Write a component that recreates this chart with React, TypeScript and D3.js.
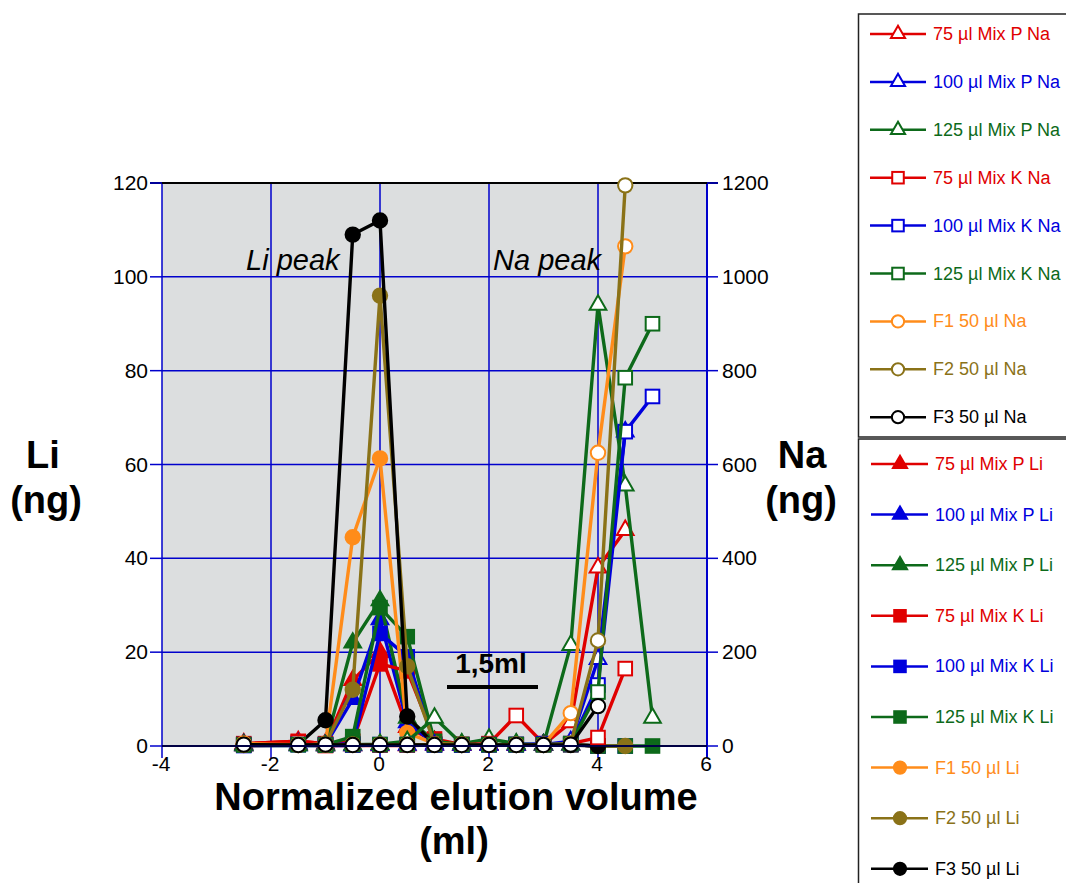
import React from "react";
import * as d3 from "d3";

const xValues = [-2.5, -1.5, -1, -0.5, 0, 0.5, 1, 1.5, 2, 2.5, 3, 3.5, 4, 4.5, 5];
const xTicks = [-4, -2, 0, 2, 4, 6];
const liTicks = [0, 20, 40, 60, 80, 100, 120];
const naTicks = [0, 200, 400, 600, 800, 1000, 1200];

type V = number | null;
// Na series (right axis, ng)
const na75P: V[] = [1, 2, 1, 1, 1, 1, 2, 2, 3, 2, 3, 50, 380, 460, null];
const na100P: V[] = [1, 1, 1, 1, 2, 2, 2, 2, 2, 2, 3, 10, 185, 670, null];
const na125P: V[] = [1, 1, 1, 3, 4, 10, 60, 5, 15, 5, 3, 215, 940, 555, 60];
const na75K: V[] = [2, 8, 1, 2, 2, 2, 3, 3, 5, 65, 5, 5, 18, 165, null];
const na100K: V[] = [1, 3, 2, 2, 3, 3, 2, 2, 3, 3, 5, 5, 130, 670, 745];
const na125K: V[] = [2, 3, 2, 3, 3, 3, 3, 3, 3, 3, 3, 5, 115, 785, 900];
const naF1: V[] = [5, 3, 3, 3, 3, 3, 3, 3, 3, 3, 3, 70, 625, 1065, null];
const naF2: V[] = [2, 2, 3, 3, 3, 3, 3, 3, 3, 3, 3, 5, 225, 1195, null];
const naF3: V[] = [3, 2, 3, 2, 2, 2, 2, 2, 2, 2, 2, 3, 85, null, null];
// Li series (left axis, ng)
const li75P: V[] = [0.5, 1, 0.5, 14, 20, 4, 1, 0.3, 0.3, 0.3, 0.3, 0.3, null, null, null];
const li100P: V[] = [0.3, 0.5, 0.3, 10, 27, 5, 0.5, 0.3, 0.3, 0.3, 0.3, 0.3, null, null, null];
const li125P: V[] = [0.3, 0.3, 0.3, 22, 31, 6, 1, 0.3, 0.3, 0.3, 0.3, 0.3, null, null, null];
const li75K: V[] = [0.5, 1, 0.5, 1, 17.5, 16, 1.5, 0.3, 0.3, 0.3, 0.3, 0.3, 0, null, null];
const li100K: V[] = [0.3, 0.5, 0.3, 0.5, 24, 19, 0.5, 0.3, 0.3, 0.3, 0.3, 0.3, 0, 0, null];
const li125K: V[] = [0.3, 0.3, 0.3, 2, 29.5, 23.3, 1, 0.3, 0.3, 0.3, 0.3, 0.3, 0, 0, 0];
const liF1: V[] = [0.5, 0.5, 0.5, 44.5, 61.3, 2.8, 0.5, 0.3, 0.3, 0.3, 0.3, 0.3, null, null, null];
const liF2: V[] = [0.3, 0.3, 0.5, 12, 96, 17, 0.5, 0.3, 0.3, 0.3, 0.3, 0.3, 0, 0, null];
const liF3: V[] = [0.3, 0.3, 5.5, 109, 112, 6.3, 0.3, 0.2, 0.2, 0.2, 0.2, 0.2, 0, null, null];

const RED = "#e00000";
const BLUE = "#0000dd";
const GREEN = "#0d6a1a";
const ORANGE = "#ff8c1a";
const OLIVE = "#8a7218";
const BLACK = "#000000";

type Shape = "tri" | "sq" | "circ";
interface S { name: string; data: V[]; color: string; shape: Shape; filled: boolean; axis: "li" | "na"; }

const naSeries: S[] = [
  { name: "75 µl Mix P Na", data: na75P, color: RED, shape: "tri", filled: false, axis: "na" },
  { name: "100 µl Mix P Na", data: na100P, color: BLUE, shape: "tri", filled: false, axis: "na" },
  { name: "125 µl Mix P Na", data: na125P, color: GREEN, shape: "tri", filled: false, axis: "na" },
  { name: "75 µl Mix K Na", data: na75K, color: RED, shape: "sq", filled: false, axis: "na" },
  { name: "100 µl Mix K Na", data: na100K, color: BLUE, shape: "sq", filled: false, axis: "na" },
  { name: "125 µl Mix K Na", data: na125K, color: GREEN, shape: "sq", filled: false, axis: "na" },
  { name: "F1 50 µl Na", data: naF1, color: ORANGE, shape: "circ", filled: false, axis: "na" },
  { name: "F2 50 µl Na", data: naF2, color: OLIVE, shape: "circ", filled: false, axis: "na" },
  { name: "F3 50 µl Na", data: naF3, color: BLACK, shape: "circ", filled: false, axis: "na" },
];
const liSeries: S[] = [
  { name: "75 µl Mix P Li", data: li75P, color: RED, shape: "tri", filled: true, axis: "li" },
  { name: "100 µl Mix P Li", data: li100P, color: BLUE, shape: "tri", filled: true, axis: "li" },
  { name: "125 µl Mix P Li", data: li125P, color: GREEN, shape: "tri", filled: true, axis: "li" },
  { name: "75 µl Mix K Li", data: li75K, color: RED, shape: "sq", filled: true, axis: "li" },
  { name: "100 µl Mix K Li", data: li100K, color: BLUE, shape: "sq", filled: true, axis: "li" },
  { name: "125 µl Mix K Li", data: li125K, color: GREEN, shape: "sq", filled: true, axis: "li" },
  { name: "F1 50 µl Li", data: liF1, color: ORANGE, shape: "circ", filled: true, axis: "li" },
  { name: "F2 50 µl Li", data: liF2, color: OLIVE, shape: "circ", filled: true, axis: "li" },
  { name: "F3 50 µl Li", data: liF3, color: BLACK, shape: "circ", filled: true, axis: "li" },
];

const W = 1066, H = 883;
const x = d3.scaleLinear().domain([-4, 6]).range([162, 707]);
const yLi = d3.scaleLinear().domain([0, 120]).range([746, 183]);
const yNa = d3.scaleLinear().domain([0, 1200]).range([746, 183]);

function Marker({ shape, cx, cy, color, filled, size = 1 }: { shape: Shape; cx: number; cy: number; color: string; filled: boolean; size?: number }) {
  const fill = filled ? color : "#ffffff";
  if (shape === "circ") return <circle cx={cx} cy={cy} r={7.2 * size} fill={fill} stroke={color} strokeWidth={2} />;
  if (shape === "sq") { const s = 6.8 * size; return <rect x={cx - s} y={cy - s} width={2 * s} height={2 * s} fill={fill} stroke={color} strokeWidth={2} />; }
  const t = d3.symbol().type(d3.symbolTriangle).size(120 * size * size)();
  return <path d={t || ""} transform={`translate(${cx},${cy})`} fill={fill} stroke={color} strokeWidth={2} />;
}

function SeriesView({ s }: { s: S }) {
  const ys = s.axis === "li" ? yLi : yNa;
  const pts = xValues.map((xv, i) => ({ xv, v: s.data[i] })).filter(p => p.v !== null) as { xv: number; v: number }[];
  const line = d3.line<{ xv: number; v: number }>().x(p => x(p.xv)).y(p => ys(p.v));
  return (
    <g>
      <path d={line(pts) || ""} fill="none" stroke={s.color} strokeWidth={3.4} strokeLinejoin="round" />
      {pts.map((p, i) => <Marker key={i} shape={s.shape} cx={x(p.xv)} cy={ys(p.v)} color={s.color} filled={s.filled} />)}
    </g>
  );
}

export default function App() {
  const font = "Arial, 'Liberation Sans', sans-serif";
  const gridBlue = "#0000cc";
  const legend1Y = naSeries.map((_, i) => 34 + i * 47.9);
  const legend2Y = liSeries.map((_, i) => 464 + i * 50.6);
  return (
    <svg width={W} height={H} style={{ position: "absolute", left: 0, top: 0 }} fontFamily={font}>
      <rect x={0} y={0} width={W} height={H} fill="#ffffff" />
      <rect x={162} y={183} width={545} height={563} fill="#dcdedf" />
      {xTicks.slice(1, -1).map(t => <line key={t} x1={x(t)} x2={x(t)} y1={183} y2={746} stroke={gridBlue} strokeWidth={1.5} />)}
      {liTicks.slice(1, -1).map(t => <line key={t} x1={162} x2={707} y1={yLi(t)} y2={yLi(t)} stroke={gridBlue} strokeWidth={1.5} />)}
      <line x1={162} x2={162} y1={183} y2={746} stroke={gridBlue} strokeWidth={1.5} />
      <line x1={707} x2={707} y1={183} y2={758} stroke={gridBlue} strokeWidth={2} />
      <line x1={150} x2={718} y1={183} y2={183} stroke="#000" strokeWidth={2} />
      {/* ticks */}
      {liTicks.map(t => <line key={"l" + t} x1={150} x2={162} y1={yLi(t)} y2={yLi(t)} stroke={gridBlue} strokeWidth={1.5} />)}
      {naTicks.map(t => <line key={"r" + t} x1={707} x2={718} y1={yNa(t)} y2={yNa(t)} stroke={gridBlue} strokeWidth={1.5} />)}
      {xTicks.map(t => <line key={"x" + t} x1={x(t)} x2={x(t)} y1={746} y2={758} stroke={gridBlue} strokeWidth={1.5} />)}
      {liTicks.map(t => <text key={"lt" + t} x={148} y={yLi(t) + 7} fontSize={21} textAnchor="end">{t}</text>)}
      {naTicks.map(t => <text key={"rt" + t} x={722} y={yNa(t) + 7} fontSize={21} textAnchor="start">{t}</text>)}
      {xTicks.map(t => <text key={"xt" + t} x={x(t) - 1} y={771} fontSize={21} textAnchor="middle">{t}</text>)}
      {/* series: Li first, then Na on top */}
      {liSeries.map(s => <SeriesView key={s.name} s={s} />)}
      {naSeries.map(s => <SeriesView key={s.name} s={s} />)}
      <line x1={162} x2={707} y1={746} y2={746} stroke="#000044" strokeWidth={2} />
      {/* annotations */}
      <text x={246} y={270} fontSize={29} fontStyle="italic">Li peak</text>
      <text x={493} y={270} fontSize={29} fontStyle="italic">Na peak</text>
      <text x={491} y={673} fontSize={28} fontWeight="bold" textAnchor="middle">1,5ml</text>
      <line x1={447} x2={538} y1={687} y2={687} stroke="#000" strokeWidth={4} />
      {/* axis titles */}
      <text x={43} y={468} fontSize={38} fontWeight="bold" textAnchor="middle">Li</text>
      <text x={46} y={513} fontSize={38} fontWeight="bold" textAnchor="middle">(ng)</text>
      <text x={802} y={468} fontSize={38} fontWeight="bold" textAnchor="middle">Na</text>
      <text x={801} y={513} fontSize={38} fontWeight="bold" textAnchor="middle">(ng)</text>
      <text x={456} y={810} fontSize={38} fontWeight="bold" textAnchor="middle">Normalized elution volume</text>
      <text x={454} y={854} fontSize={38} fontWeight="bold" textAnchor="middle">(ml)</text>
      {/* legends */}
      <rect x={858.5} y={14} width={220} height={423} fill="#fff" stroke="#222" strokeWidth={1.5} />
      <rect x={858.5} y={439} width={220} height={460} fill="#fff" stroke="#222" strokeWidth={1.5} />
      {naSeries.map((s, i) => (
        <g key={s.name}>
          <line x1={870} x2={926} y1={legend1Y[i]} y2={legend1Y[i]} stroke={s.color} strokeWidth={2.5} />
          <Marker shape={s.shape} cx={898} cy={legend1Y[i]} color={s.color} filled={s.filled} size={0.85} />
          <text x={933} y={legend1Y[i] + 6} fontSize={18} fill={s.color}>{s.name}</text>
        </g>
      ))}
      {liSeries.map((s, i) => (
        <g key={s.name}>
          <line x1={871} x2={928} y1={legend2Y[i]} y2={legend2Y[i]} stroke={s.color} strokeWidth={2.5} />
          <Marker shape={s.shape} cx={900} cy={legend2Y[i]} color={s.color} filled={s.filled} size={0.85} />
          <text x={935} y={legend2Y[i] + 6} fontSize={18} fill={s.color}>{s.name}</text>
        </g>
      ))}
    </svg>
  );
}
